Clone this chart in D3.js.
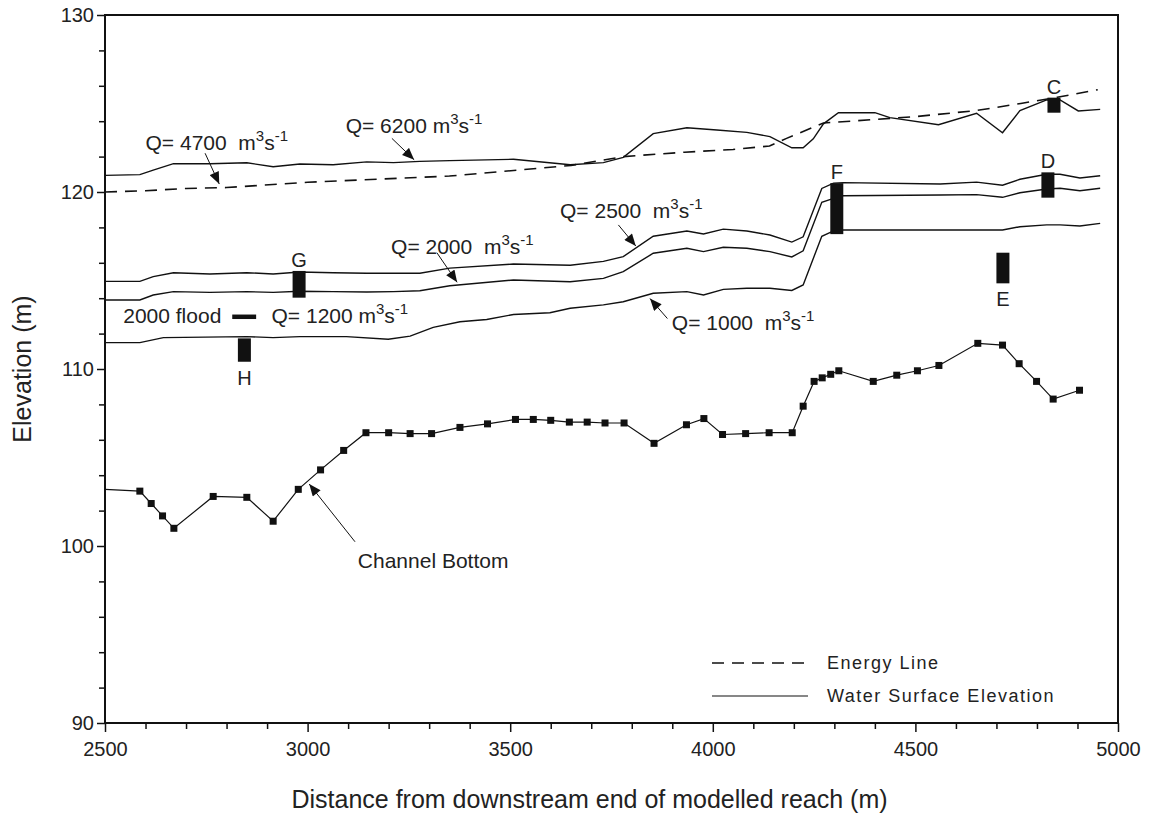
<!DOCTYPE html>
<html>
<head>
<meta charset="utf-8">
<script src="https://cdn.jsdelivr.net/npm/d3@7"></script>
<style>
body { margin: 0; background: #fff; }
svg text { font-family: "Liberation Sans", Arial, sans-serif; fill: #222; }
</style>
</head>
<body>
<div id="chart"></div>
<script>
// channel bottom survey points
const bottomX = [2500, 2586, 2614, 2642, 2670, 2767, 2850, 2915, 2977, 3032, 3089, 3144, 3200, 3253, 3306, 3376, 3444, 3513, 3557, 3600, 3646, 3690, 3734, 3781, 3855, 3935, 3978, 4024, 4081, 4139, 4196, 4223, 4250, 4270, 4291, 4311, 4396, 4454, 4505, 4558, 4654, 4715, 4756, 4799, 4840, 4905]
const bottomZ = [103.2, 103.1, 102.4, 101.7, 101.0, 102.8, 102.75, 101.4, 103.2, 104.3, 105.4, 106.4, 106.4, 106.35, 106.35, 106.7, 106.9, 107.15, 107.15, 107.1, 107.0, 107.0, 106.95, 106.95, 105.8, 106.85, 107.2, 106.3, 106.35, 106.4, 106.4, 107.9, 109.3, 109.5, 109.7, 109.9, 109.3, 109.65, 109.9, 110.2, 111.45, 111.35, 110.3, 109.3, 108.3, 108.8]

// water surface, Q = 6200
const q6200X = [2500, 2586, 2619, 2669, 2759, 2850, 2915, 2981, 3063, 3146, 3212, 3277, 3351, 3508, 3648, 3730, 3779, 3853, 3936, 4010, 4084, 4141, 4195, 4223, 4248, 4273, 4310, 4400, 4437, 4557, 4651, 4715, 4758, 4824, 4857, 4902, 4956]
const q6200Z = [120.94, 120.98, 121.24, 121.6, 121.6, 121.65, 121.43, 121.58, 121.54, 121.7, 121.66, 121.73, 121.77, 121.85, 121.54, 121.66, 121.96, 123.3, 123.63, 123.5, 123.37, 123.13, 122.5, 122.5, 123.0, 123.85, 124.48, 124.48, 124.2, 123.8, 124.45, 123.35, 124.6, 125.2, 125.2, 124.58, 124.67]

// energy line, Q = 4700
const energyX = [2500, 2600, 2700, 2800, 3000, 3350, 3650, 3780, 3930, 4050, 4140, 4182, 4273, 4340, 4500, 4650, 4760, 4850, 4950]
const energyZ = [120.0, 120.07, 120.2, 120.25, 120.55, 120.9, 121.5, 122.0, 122.25, 122.4, 122.6, 123.03, 123.9, 124.0, 124.26, 124.6, 125.0, 125.35, 125.78]

// Q = 2500 and Q = 2000 share cross sections
const lowX = [2500, 2586, 2619, 2669, 2759, 2850, 2915, 2981, 3063, 3146, 3212, 3277, 3351, 3508, 3648, 3730, 3779, 3853, 3936, 3977, 4026, 4084, 4141, 4195, 4223, 4269, 4298, 4322, 4561, 4651, 4715, 4758, 4824, 4857, 4906, 4956]
const q2500Z = [114.95, 114.95, 115.22, 115.44, 115.37, 115.44, 115.37, 115.48, 115.44, 115.41, 115.41, 115.41, 115.7, 115.93, 115.86, 116.08, 116.35, 117.5, 117.8, 117.63, 117.9, 117.8, 117.57, 117.17, 117.47, 120.2, 120.5, 120.53, 120.45, 120.56, 120.38, 120.72, 121.0, 121.0, 120.79, 120.92]
const q2000Z = [113.9, 113.9, 114.18, 114.37, 114.33, 114.37, 114.33, 114.39, 114.37, 114.35, 114.37, 114.42, 114.7, 115.03, 114.93, 115.12, 115.5, 116.54, 116.82, 116.63, 116.88, 116.82, 116.63, 116.33, 116.68, 119.42, 119.64, 119.79, 119.83, 119.85, 119.7, 119.96, 120.17, 120.21, 120.07, 120.21]

// Q = 1000
const q1000X = [2500, 2586, 2644, 2850, 2915, 2981, 3096, 3199, 3253, 3310, 3376, 3442, 3508, 3598, 3648, 3730, 3779, 3853, 3936, 3977, 4026, 4084, 4141, 4195, 4223, 4269, 4298, 4322, 4561, 4715, 4758, 4824, 4857, 4906, 4956]
const q1000Z = [111.49, 111.49, 111.77, 111.83, 111.77, 111.83, 111.83, 111.68, 111.86, 112.35, 112.67, 112.8, 113.08, 113.18, 113.43, 113.62, 113.8, 114.28, 114.37, 114.18, 114.5, 114.56, 114.56, 114.44, 114.75, 117.5, 117.8, 117.85, 117.85, 117.85, 118.04, 118.14, 118.14, 118.08, 118.23]

// observed high-water marks
const markLabels = ['C', 'D', 'E', 'F', 'G', 'H']
const markX = [4842, 4827, 4716, 4306, 2979, 2844]
const markTop = [125.33, 121.11, 116.57, 120.5, 115.54, 111.73]
const markBottom = [124.48, 119.68, 114.84, 117.62, 114.03, 110.41]
const markBelow = [false, false, true, false, false, true]

const xTicks = [2500, 3000, 3500, 4000, 4500, 5000]
const yTicks = [90, 100, 110, 120, 130]

const W = 1153, H = 819
const padL = 105, padR = 1118, padT = 15, padB = 723

const x = d3.scaleLinear().domain([2500, 5000]).range([padL, padR])
const y = d3.scaleLinear().domain([90, 130]).range([padB, padT])

const svg = d3.select('#chart').append('svg')
    .attr('width', W)
    .attr('height', H)

svg.append('defs').append('marker')
    .attr('id', 'head')
    .attr('markerUnits', 'userSpaceOnUse')
    .attr('viewBox', '0 0 12 10')
    .attr('refX', 12).attr('refY', 5)
    .attr('markerWidth', 13).attr('markerHeight', 10)
    .attr('orient', 'auto')
  .append('path')
    .attr('d', 'M0,0 L12,5 L0,10 Z')
    .attr('fill', '#111')

// axes
const minorY = d3.range(90, 131, 2).filter(v => v % 10 !== 0)
const minorX = d3.range(2500, 5001, 100).filter(v => v % 500 !== 0)

svg.append('g')
    .attr('transform', `translate(${padL},0)`)
    .call(d3.axisLeft(y).tickValues(minorY).tickSize(6).tickFormat(''))
svg.append('g')
    .attr('class', 'yaxis')
    .attr('transform', `translate(${padL},0)`)
    .call(d3.axisLeft(y).tickValues(yTicks).tickSize(8).tickPadding(3).tickFormat(d3.format('d')))
svg.append('g')
    .attr('transform', `translate(0,${padB})`)
    .call(d3.axisBottom(x).tickValues(minorX).tickSize(6).tickFormat(''))
svg.append('g')
    .attr('class', 'xaxis')
    .attr('transform', `translate(0,${padB})`)
    .call(d3.axisBottom(x).tickValues(xTicks).tickSize(9).tickPadding(10).tickFormat(d3.format('d')))

svg.selectAll('.domain').remove()
svg.selectAll('.tick line').attr('stroke', '#111').attr('stroke-width', 1.5)
svg.selectAll('.yaxis text, .xaxis text')
    .style('font-family', '"Liberation Sans", Arial, sans-serif')
    .style('font-size', '20px')
    .attr('fill', '#222')

svg.append('rect')
    .attr('x', padL).attr('y', padT)
    .attr('width', padR - padL).attr('height', padB - padT)
    .attr('fill', 'none')
    .attr('stroke', '#111')
    .attr('stroke-width', 2)

svg.append('text')
    .attr('x', (padL + padR) / 2 - 22)
    .attr('y', 808)
    .attr('text-anchor', 'middle')
    .style('font-size', '25px')
    .text('Distance from downstream end of modelled reach (m)')

svg.append('text')
    .attr('transform', `translate(31,${(padT + padB) / 2}) rotate(-90)`)
    .attr('text-anchor', 'middle')
    .style('font-size', '25px')
    .text('Elevation (m)')

// lines
const line = d3.line().x(d => x(d[0])).y(d => y(d[1]))
const pairs = (xs, zs) => xs.map((v, i) => [v, zs[i]])

const solid = [pairs(q6200X, q6200Z), pairs(lowX, q2500Z), pairs(lowX, q2000Z), pairs(q1000X, q1000Z)]
svg.selectAll('path.ws')
    .data(solid)
    .enter()
    .append('path')
    .attr('class', 'ws')
    .attr('d', line)
    .attr('fill', 'none')
    .attr('stroke', '#111')
    .attr('stroke-width', 1.4)

svg.append('path')
    .datum(pairs(energyX, energyZ))
    .attr('d', line)
    .attr('fill', 'none')
    .attr('stroke', '#111')
    .attr('stroke-width', 1.6)
    .attr('stroke-dasharray', '12,8')

const bed = pairs(bottomX, bottomZ)
svg.append('path')
    .datum(bed)
    .attr('d', line)
    .attr('fill', 'none')
    .attr('stroke', '#111')
    .attr('stroke-width', 1.2)

svg.selectAll('rect.pt')
    .data(bed.slice(1))
    .enter()
    .append('rect')
    .attr('class', 'pt')
    .attr('x', d => x(d[0]) - 3.5)
    .attr('y', d => y(d[1]) - 3.5)
    .attr('width', 7)
    .attr('height', 7)
    .attr('fill', '#111')

// high water marks
const marks = markLabels.map((l, i) => ({ label: l, x: markX[i], hi: markTop[i], lo: markBottom[i], below: markBelow[i] }))
svg.selectAll('rect.mark')
    .data(marks)
    .enter()
    .append('rect')
    .attr('class', 'mark')
    .attr('x', d => x(d.x) - 6.5)
    .attr('y', d => y(d.hi))
    .attr('width', 13)
    .attr('height', d => y(d.lo) - y(d.hi))
    .attr('fill', '#111')

svg.selectAll('text.mark')
    .data(marks)
    .enter()
    .append('text')
    .attr('class', 'mark')
    .attr('x', d => x(d.x))
    .attr('y', d => d.below ? y(d.lo) + 23 : y(d.hi) - 4)
    .attr('text-anchor', 'middle')
    .style('font-size', '20px')
    .text(d => d.label)

// discharge labels
function qLabel(num, px, pz, gap) {
    const t = svg.append('text')
        .attr('x', x(px)).attr('y', y(pz))
        .style('font-size', '21px')
        .style('white-space', 'pre')
    t.append('tspan').text(`Q= ${num}${gap}m`)
    t.append('tspan').attr('dy', -9).style('font-size', '15px').text('3')
    t.append('tspan').attr('dy', 9).text('s')
    t.append('tspan').attr('dy', -9).style('font-size', '15px').text('-1')
}
qLabel(4700, 2600, 122.37, '  ')
qLabel(6200, 3094, 123.32, ' ')
qLabel(2000, 3206, 116.5, '  ')
qLabel(2500, 3623, 118.53, '  ')
qLabel(1000, 3899, 112.2, '  ')
qLabel(1200, 2911, 112.6, ' ')

svg.append('text')
    .attr('x', x(2545)).attr('y', y(112.6))
    .style('font-size', '21px')
    .text('2000 flood')
svg.append('line')
    .attr('x1', x(2814)).attr('x2', x(2873))
    .attr('y1', y(112.95)).attr('y2', y(112.95))
    .attr('stroke', '#111')
    .attr('stroke-width', 4.5)

svg.append('text')
    .attr('x', x(3124)).attr('y', y(98.76))
    .style('font-size', '21px')
    .text('Channel Bottom')

// arrows: [fromX, fromZ, toX, toZ]
const arrows = [
    [2747, 122.19, 2782, 120.45],
    [3208, 123.03, 3263, 121.82],
    [3319, 116.57, 3369, 114.9],
    [3767, 118.14, 3810, 116.95],
    [3888, 112.85, 3845, 113.98],
    [3117, 100.24, 3004, 103.5]
]
svg.selectAll('line.arrow')
    .data(arrows)
    .enter()
    .append('line')
    .attr('class', 'arrow')
    .attr('x1', d => x(d[0])).attr('y1', d => y(d[1]))
    .attr('x2', d => x(d[2])).attr('y2', d => y(d[3]))
    .attr('stroke', '#111')
    .attr('stroke-width', 1)
    .attr('marker-end', 'url(#head)')

// legend
const lg = svg.append('g').attr('transform', 'translate(712,663)')
lg.append('line')
    .attr('x1', 0).attr('x2', 96)
    .attr('stroke', '#111').attr('stroke-width', 1.4)
    .attr('stroke-dasharray', '12,8')
lg.append('line')
    .attr('x1', 0).attr('x2', 96)
    .attr('y1', 33).attr('y2', 33)
    .attr('stroke', '#111').attr('stroke-width', 1.2)
lg.append('text').attr('x', 115).attr('y', 6).style('font-size', '18px').style('letter-spacing', '1.5px').text('Energy Line')
lg.append('text').attr('x', 115).attr('y', 39).style('font-size', '18px').style('letter-spacing', '1.5px').text('Water Surface Elevation')
</script>
</body>
</html>
